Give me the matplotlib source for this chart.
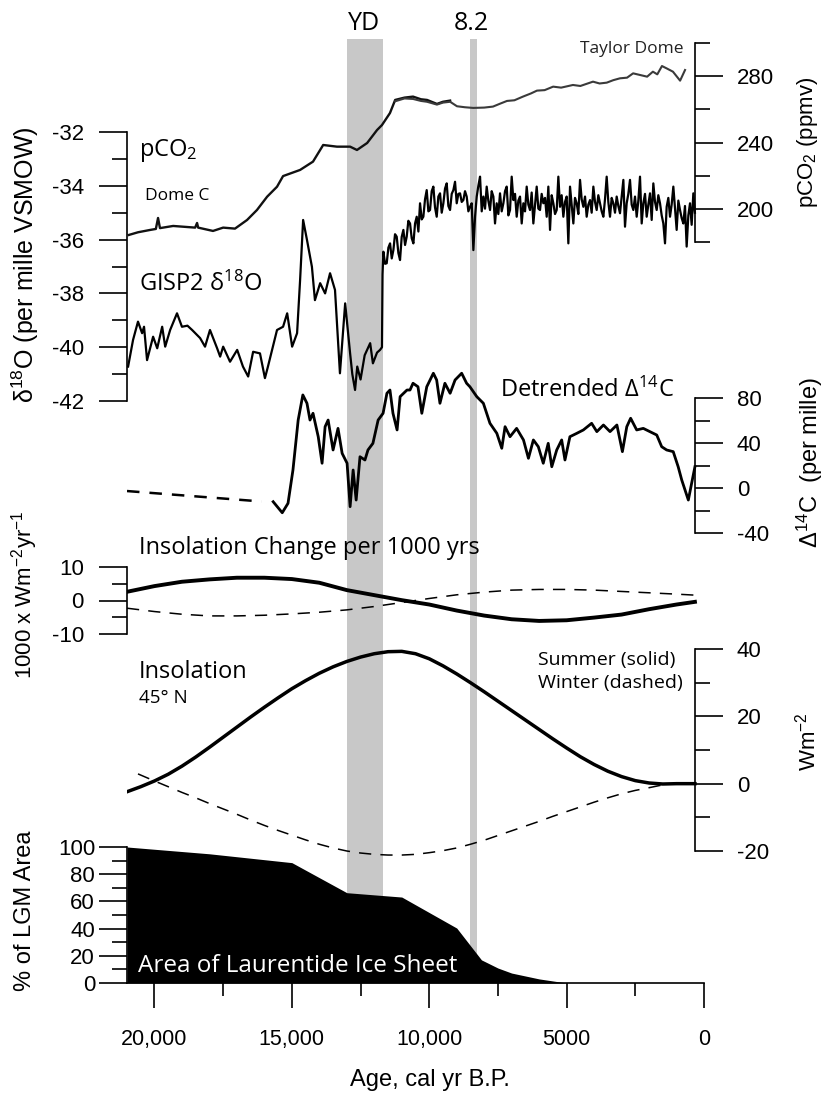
import matplotlib
matplotlib.use("Agg")
import matplotlib.pyplot as plt

plt.rcParams['font.family'] = ['Liberation Sans', 'DejaVu Sans']
plt.rcParams['mathtext.default'] = 'regular'
plt.rcParams['axes.unicode_minus'] = False
ANN = ['Open Sans', 'DejaVu Sans']

# ---- data (age in cal yr B.P.) ----
# pCO2 (ppmv)
domec_age = [20930, 20600, 20160, 19950, 19870, 19800, 19320, 18520, 18450, 18410, 17870, 17500,
             17070, 16630, 16270, 15900, 15540, 15320, 14700, 14230, 13860, 13360, 12880, 12630,
             12260, 11900, 11720, 11430, 11240, 10900, 10590, 10300, 10080, 9720, 9500, 9240]
domec_co2 = [184.4, 186.0, 187.4, 188.0, 194.6, 188.5, 189.8, 188.8, 191.6, 188.8, 186.8, 188.8,
             188.2, 193.4, 199.4, 207.4, 213.4, 219.8, 223.5, 228.5, 238.5, 237.5, 237.5, 235.5,
             239.7, 247.5, 250.5, 257.7, 265.6, 267.0, 267.6, 266.0, 265.6, 263.2, 264.5, 265.2]
taylor_age = [11240, 10900, 10590, 10300, 10080, 9720, 9500, 9240, 8990, 8700, 8400, 8000, 7680,
              7400, 7170, 6900, 6590, 6300, 6080, 5800, 5490, 5200, 4770, 4500, 4040, 3800, 3540,
              3300, 3060, 2800, 2580, 2300, 2070, 1860, 1700, 1530, 1350, 1130, 870, 690]
taylor_co2 = [264.8, 266.5, 266.2, 265.0, 264.5, 262.8, 264.0, 264.5, 261.8, 261.2, 260.8, 261.0,
              261.6, 263.5, 265.0, 265.4, 267.6, 269.5, 271.2, 271.5, 273.6, 273.0, 274.6, 274.0,
              276.6, 275.5, 276.0, 277.5, 278.6, 279.0, 281.6, 280.5, 279.6, 282.6, 281.0, 286.0,
              284.5, 282.6, 277.2, 283.6]

# GISP2 d18O (per mille), glacial + deglacial part
d18o_age = [20960, 20780, 20600, 20450, 20380, 20270, 20050, 19900, 19720, 19610, 19430, 19180,
            19000, 18800, 18630, 18340, 18160, 17980, 17720, 17610, 17500, 17250, 16990, 16780,
            16590, 16410, 16160, 15980, 15870, 15540, 15320, 15170, 14990, 14810, 14700, 14590,
            14450, 14270, 14160, 13970, 13790, 13610, 13430, 13250, 13060, 12880, 12800, 12700,
            12620, 12500, 12350, 12150, 12050, 11900, 11790, 11720, 11700]
d18o_val = [-40.72, -39.73, -39.05, -39.48, -39.24, -40.48, -39.61, -40.04, -39.24, -39.98, -39.36, -38.74,
            -39.24, -39.20, -39.36, -39.66, -39.98, -39.36, -40.04, -40.35, -39.98, -40.54, -40.10, -40.72,
            -41.09, -40.17, -40.23, -41.15, -40.72, -39.36, -39.24, -38.74, -39.98, -39.48, -37.50, -35.27,
            -36.01, -37.01, -38.25, -37.62, -38.00, -37.25, -37.87, -40.97, -38.37, -40.23, -41.00, -41.59,
            -40.72, -41.20, -40.30, -39.85, -40.60, -40.20, -40.10, -40.00, -37.30]

# GISP2 d18O, early Holocene
early_age = [11669, 11608, 11548, 11487, 11426, 11365, 11305, 11245, 11184, 11123, 11063, 11002,
             10941, 10880, 10820, 10760, 10699, 10638, 10577, 10516, 10456, 10395, 10335, 10274,
             10214, 10153, 10092, 10031, 9971, 9910, 9850, 9790, 9728, 9668, 9607, 9546,
             9486, 9425, 9364, 9304, 9243, 9182, 9122, 9061, 9000, 8940, 8879, 8818,
             8758, 8698, 8637, 8576, 8515, 8454, 8394, 8333, 8272, 8212]
early_val = [-36.45, -36.90, -36.88, -36.30, -36.14, -36.70, -36.39, -35.80, -35.89, -36.50, -36.76, -35.90,
             -35.64, -36.20, -35.89, -35.30, -35.40, -35.95, -36.14, -35.40, -35.15, -35.70, -34.65, -35.25,
             -35.15, -34.50, -34.16, -34.95, -34.90, -34.20, -34.03, -34.80, -35.15, -34.40, -34.28, -35.00,
             -34.65, -34.10, -33.91, -34.75, -34.90, -34.30, -34.16, -33.85, -34.65, -34.30, -34.28, -34.60,
             -34.53, -34.20, -34.40, -34.95, -34.78, -34.65, -36.39, -35.15, -34.40, -34.00]

# GISP2 d18O, mid/late Holocene (dense, noisy)
hol_age = [8151, 8090, 8030, 7970, 7909, 7850, 7787, 7727, 7666, 7606, 7545, 7485, 7424, 7363, 7302,
           7242, 7181, 7120, 7060, 6999, 6938, 6878, 6817, 6757, 6696, 6635, 6574, 6514, 6453, 6393,
           6332, 6272, 6211, 6150, 6089, 6029, 5968, 5908, 5847, 5786, 5725, 5665, 5604, 5544, 5483,
           5422, 5361, 5301, 5240, 5180, 5119, 5059, 4998, 4937, 4876, 4816, 4755, 4695, 4634, 4573,
           4512, 4452, 4391, 4330, 4270, 4209, 4148, 4088, 4027, 3967, 3906, 3846, 3785, 3724, 3663,
           3603, 3542, 3482, 3421, 3360, 3299, 3239, 3178, 3118, 3057, 2996, 2935, 2875, 2814, 2754,
           2693, 2632, 2572, 2511, 2450, 2390, 2329, 2268, 2208, 2147, 2086, 2026, 1965, 1904, 1844,
           1783, 1722, 1662, 1601, 1540, 1480, 1419, 1359, 1298, 1237, 1177, 1116, 1056, 995, 934,
           873, 813, 752, 692, 631, 570, 509, 449, 388, 330]
hol_val = [-33.66, -34.95, -34.40, -34.85, -34.03, -34.55, -34.90, -34.20, -34.40, -35.40, -34.65, -35.05,
           -34.28, -34.95, -34.65, -34.20, -34.03, -35.10, -34.90, -33.66, -34.53, -34.30, -35.15, -34.55,
           -34.40, -35.40, -34.65, -34.95, -34.03, -34.70, -34.90, -34.25, -35.40, -34.70, -34.03, -34.85,
           -34.90, -34.30, -34.65, -34.45, -35.15, -34.03, -35.64, -34.35, -34.65, -35.05, -34.90, -33.66,
           -34.78, -34.35, -35.15, -34.60, -34.40, -36.14, -34.03, -34.70, -35.40, -34.45, -34.65, -35.05,
           -33.78, -34.50, -34.78, -34.40, -35.15, -34.70, -34.53, -35.00, -34.03, -34.60, -34.90, -34.35,
           -34.65, -34.95, -35.15, -34.50, -33.66, -34.60, -35.15, -34.45, -34.65, -35.00, -34.40, -34.75,
           -35.02, -34.40, -33.78, -35.52, -34.65, -34.30, -33.78, -34.70, -34.90, -34.40, -35.15, -34.55,
           -33.66, -35.40, -34.65, -34.30, -35.15, -34.70, -34.28, -35.27, -33.91, -34.60, -34.90, -34.35,
           -34.65, -35.10, -35.40, -36.14, -34.78, -34.45, -35.15, -34.70, -34.03, -34.85, -35.64, -34.55,
           -34.90, -35.20, -35.40, -34.75, -36.26, -35.10, -34.65, -35.45, -34.28, -35.00]

# detrended D14C (per mille)
d14c_gap_age = [21000, 16100]
d14c_gap_val = [-2.7, -12.0]
d14c_age = [15680, 15350, 15140, 14960, 14770, 14600, 14450, 14340, 14230, 14040, 13900, 13790,
            13680, 13500, 13320, 13170, 12990, 12880, 12770, 12660, 12520, 12340, 12230, 12050,
            11860, 11680, 11540, 11430, 11320, 11170, 11060, 10810, 10700, 10590, 10410, 10270,
            10090, 9850, 9730, 9610, 9430, 9240, 9060, 8820, 8640, 8520, 8270, 8030, 7790, 7540,
            7360, 7240, 7060, 6820, 6570, 6390, 6210, 6030, 5850, 5670, 5540, 5360, 5180, 5060,
            4880, 4630, 4390, 4090, 3900, 3660, 3420, 3170, 2970, 2810, 2670, 2450, 2210, 1970,
            1720, 1540, 1360, 1120, 940, 810, 690, 570, 450, 330]
d14c_val = [-12.2, -22.0, -13.6, 16.0, 60.4, 82.7, 75.3, 60.4, 66.4, 45.6, 22.0, 54.5,
            60.4, 33.8, 53.0, 30.8, 22.0, -16.6, 16.0, -10.7, 27.8, 24.9, 33.8, 39.7,
            60.4, 66.4, 84.2, 87.1, 66.4, 51.6, 81.2, 87.1, 87.1, 93.1, 90.0, 66.4,
            90.0, 102.0, 96.0, 75.3, 93.1, 84.2, 96.0, 102.0, 93.1, 90.0, 81.2, 75.3, 57.5, 48.6,
            35.3, 54.5, 45.6, 53.0, 42.7, 26.4, 42.7, 36.7, 22.0, 39.7, 18.9, 33.8, 42.7, 24.9,
            45.6, 48.6, 51.6, 57.5, 50.1, 56.0, 50.1, 56.0, 32.3, 54.5, 62.0, 51.6, 53.0, 50.1,
            47.1, 36.7, 33.8, 32.3, 18.9, 7.1, -1.8, -10.7, 4.2, 18.9]

# insolation change per 1000 yrs (x1000 W m-2 yr-1)
dins_age = [21000, 20000, 19000, 18000, 17000, 16000, 15000, 14000, 13000, 12000, 11000, 10000,
            9000, 8000, 7000, 6000, 5000, 4000, 3000, 2000, 1000, 330]
dins_summer = [2.6, 4.3, 5.6, 6.3, 6.8, 6.8, 6.4, 5.3, 3.1, 1.6, 0.1, -1.2,
               -3.0, -4.5, -5.6, -6.1, -5.9, -5.1, -4.2, -2.6, -1.2, -0.4]
dins_winter = [-2.3, -3.3, -4.1, -4.6, -4.6, -4.4, -4.0, -3.5, -2.8, -1.8, -0.6, 0.6,
               1.7, 2.5, 3.1, 3.3, 3.3, 3.1, 2.7, 2.3, 1.9, 1.6]

# insolation anomaly 45N (W m-2)
ins_s_age = [21000, 20500, 20000, 19500, 19000, 18500, 18000, 17500, 17000, 16500, 16000, 15500,
             15000, 14500, 14000, 13500, 13000, 12500, 12000, 11500, 11000, 10500, 10000, 9500,
             9000, 8500, 8000, 7500, 7000, 6500, 6000, 5500, 5000, 4500, 4000, 3500, 3000, 2500,
             2000, 1500, 1000, 330]
ins_summer = [-2.4, -0.9, 0.8, 2.8, 5.2, 7.9, 10.8, 13.8, 16.8, 19.8, 22.7, 25.5,
              28.2, 30.6, 32.8, 34.7, 36.3, 37.6, 38.6, 39.2, 39.3, 38.6, 37.1, 35.0,
              32.6, 30.0, 27.3, 24.5, 21.7, 18.9, 16.1, 13.3, 10.6, 8.0, 5.7, 3.7, 2.1, 0.9,
              0.2, -0.1, 0.0, 0.0]
ins_w_age = [20600, 20000, 19500, 19000, 18500, 18000, 17500, 17000, 16500, 16000, 15500, 15000,
             14500, 14000, 13500, 13000, 12500, 12000, 11500, 11000, 10500, 10000, 9500, 9000,
             8500, 8000, 7500, 7000, 6500, 6000, 5500, 5000, 4500, 4000, 3500, 3000, 2500, 2000, 1350]
ins_winter = [2.9, 0.8, -0.9, -2.6, -4.2, -5.9, -7.5, -9.1, -10.8, -12.4, -13.9, -15.3,
              -16.7, -18.0, -19.1, -20.0, -20.6, -21.0, -21.2, -21.2, -21.0, -20.5, -19.9, -19.1,
              -18.0, -16.8, -15.4, -14.0, -12.6, -11.2, -9.7, -8.3, -6.9, -5.5, -4.2, -3.0, -2.0, -1.2, -0.1]

# Laurentide ice sheet area (% of LGM)
ice_age = [21000, 18000, 15000, 13000, 11000, 9000, 8100, 7500, 7000, 6000, 5000, 0]
ice_pct = [100, 95, 88.5, 66.4, 63.2, 40.4, 17, 11, 7.3, 3, 0, 0]

# ---- layout in pixels ----
W, H = 825, 1093
X0, X1 = 127, 704
Y_TOP, Y_BOT = 20, 983
RSPINE = (695 - X0) / (X1 - X0)

fig = plt.figure(figsize=(W / 100, H / 100), dpi=100)


def new_axes(v1, p1, v2, p2):
    # axes over the full plot area; y limits chosen so v1 sits at pixel row p1, v2 at p2
    s = (v1 - v2) / (p2 - p1)
    ax = fig.add_axes([X0 / W, 1 - Y_BOT / H, (X1 - X0) / W, (Y_BOT - Y_TOP) / H])
    ax.set_xlim(21000, 0)
    ax.set_ylim(v1 + (p1 - Y_BOT) * s, v1 + (p1 - Y_TOP) * s)
    ax.patch.set_visible(False)
    for sp in ax.spines.values():
        sp.set_visible(False)
    ax.tick_params(axis='x', which='both', bottom=False, labelbottom=False)
    return ax


def y_spine(ax, side, lo, hi, major, minor, pad=11, size=16):
    sp = ax.spines[side]
    sp.set_visible(True)
    sp.set_bounds(lo, hi)
    sp.set_linewidth(1.2)
    if side == 'right':
        sp.set_position(('axes', RSPINE))
        ax.yaxis.tick_right()
    else:
        ax.yaxis.tick_left()
    ax.set_yticks(major)
    ax.set_yticks(minor, minor=True)
    ax.tick_params(axis='y', which='major', length=20, width=1.2, pad=pad, labelsize=size)
    ax.tick_params(axis='y', which='minor', length=11, width=1.2)


def txt(x, y, s, **kw):
    kw.setdefault('va', 'center')
    fig.text(x / W, 1 - y / H, s, **kw)


# ice sheet panel first so the grey bands sit behind everything
ax = new_axes(100, 847, 0, 983)
top = (Y_BOT - 39) / (Y_BOT - Y_TOP)
ax.axvspan(13000, 11700, ymin=0, ymax=top, color='#c8c8c8', lw=0, zorder=0)
ax.axvspan(8500, 8250, ymin=0, ymax=top, color='#c8c8c8', lw=0, zorder=0)
ax.fill_between(ice_age, ice_pct, 0, color='black', lw=0, zorder=2)
y_spine(ax, 'left', 0, 100, [0, 20, 40, 60, 80, 100], [10, 30, 50, 70, 90], pad=3)
ax.spines['bottom'].set_visible(True)
ax.spines['bottom'].set_linewidth(1.2)
ax.spines['bottom'].set_bounds(21000, 0)
ax.tick_params(axis='x', which='both', bottom=True, labelbottom=True)
ax.set_xticks([20000, 15000, 10000, 5000, 0])
ax.set_xticklabels(['20,000', '15,000', '10,000', '5000', '0'])
ax.set_xticks([17500, 12500, 7500, 2500], minor=True)
ax.tick_params(axis='x', which='major', length=18, width=1.2, pad=15, labelsize=15.5)
ax.tick_params(axis='x', which='minor', length=9, width=1.2)

# pCO2
ax = new_axes(280, 76, 200, 209)
ax.plot(domec_age, domec_co2, color='#111111', lw=1.7)
ax.plot(taylor_age, taylor_co2, color='#3a3a3a', lw=1.5)
y_spine(ax, 'right', 180, 300, [200, 240, 280], [180, 220, 260, 300], pad=10)

# GISP2 d18O
ax = new_axes(-32, 132, -42, 401)
ax.plot(d18o_age + early_age + hol_age, d18o_val + early_val + hol_val, color='black', lw=1.6)
y_spine(ax, 'left', -42, -32, [-42, -40, -38, -36, -34, -32], [-41, -39, -37, -35, -33], pad=11)

# D14C
ax = new_axes(80, 398, -40, 533)
ax.plot(d14c_gap_age, d14c_gap_val, color='black', lw=1.8, ls=(0, (5, 4)))
ax.plot(d14c_age, d14c_val, color='black', lw=2.0)
y_spine(ax, 'right', -40, 80, [-40, 0, 40, 80], [-20, 20, 60], pad=10)

# insolation change
ax = new_axes(10, 567, -10, 634)
ax.plot(dins_age, dins_summer, color='black', lw=2.8)
ax.plot(dins_age, dins_winter, color='black', lw=1.1, ls=(0, (8, 6)))
y_spine(ax, 'left', -10, 10, [-10, 0, 10], [-5, 5], pad=11)

# insolation
ax = new_axes(40, 649, -20, 851)
ax.plot(ins_s_age, ins_summer, color='black', lw=2.5)
ax.plot(ins_w_age, ins_winter, color='black', lw=1.1, ls=(0, (8, 6)))
y_spine(ax, 'right', -20, 40, [-20, 0, 20, 40], [-10, 10, 30], pad=10)

# annotations
txt(364, 23, 'YD', ha='center', fontsize=18, family=ANN)
txt(471, 23, '8.2', ha='center', fontsize=18, family=ANN)
txt(683, 49, 'Taylor Dome', ha='right', fontsize=12.5, family=ANN, color='#222222')
txt(139, 150, 'pCO$_2$', fontsize=17, family=ANN)
txt(145, 196, 'Dome C', fontsize=12.5, family=ANN)
txt(139, 284, 'GISP2 δ$^{18}$O', fontsize=17, family=ANN)
txt(500, 390, 'Detrended Δ$^{14}$C', fontsize=17, family=ANN)
txt(139, 548, 'Insolation Change per 1000 yrs', fontsize=17, family=ANN)
txt(139, 672, 'Insolation', fontsize=17, family=ANN)
txt(139, 698, '45° N', fontsize=13.5, family=ANN)
txt(538, 660, 'Summer (solid)', fontsize=14, family=ANN)
txt(538, 683, 'Winter (dashed)', fontsize=14, family=ANN)
txt(138, 966, 'Area of Laurentide Ice Sheet', fontsize=17.5, family=ANN, color='white')

# axis titles
txt(25, 265, 'δ$^{18}$O (per mille VSMOW)', ha='center', rotation=90, fontsize=18)
txt(25, 595, '1000 x Wm$^{-2}$yr$^{-1}$', ha='center', rotation=90, fontsize=16)
txt(25, 911, '% of LGM Area', ha='center', rotation=90, fontsize=17)
txt(808, 142, 'pCO$_2$ (ppmv)', ha='center', rotation=90, fontsize=16)
txt(810, 463, 'Δ$^{14}$C  (per mille)', ha='center', rotation=90, fontsize=17)
txt(808, 742, 'Wm$^{-2}$', ha='center', rotation=90, fontsize=16)
txt(430, 1080, 'Age, cal yr B.P.', ha='center', fontsize=17)

fig.savefig('out.png', dpi=100)
